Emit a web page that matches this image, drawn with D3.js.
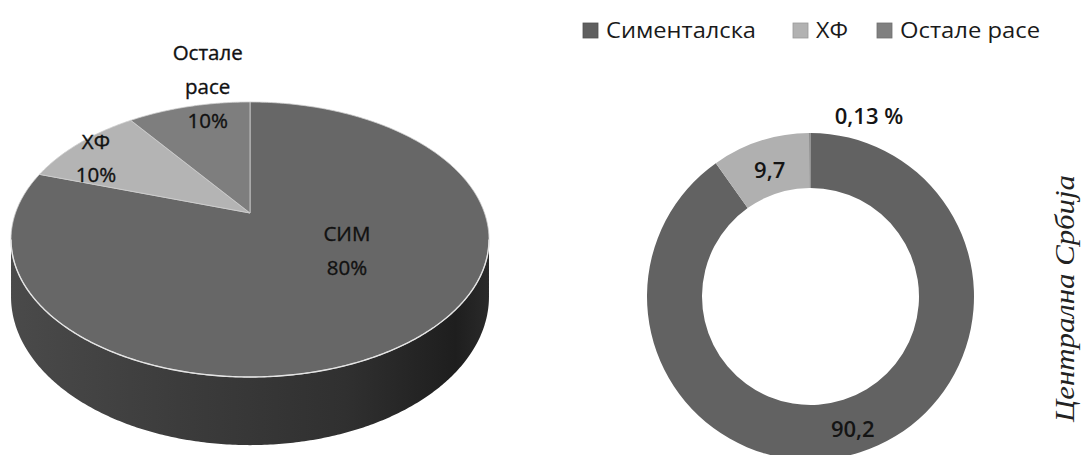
<!DOCTYPE html>
<html><head><meta charset="utf-8">
<script src="https://cdn.jsdelivr.net/npm/d3@7"></script>
<style>html,body{margin:0;padding:0;background:#fff;overflow:hidden}</style>
</head><body>
<svg id="chart" width="1086" height="455"></svg>
<script>
// ---- data ----
const pieCategories = ["СИМ", "ХФ", "Остале расе"];
const pieValues = [80, 10, 10];
const pieLabelLines = [["СИМ", "80%"], ["ХФ", "10%"], ["Остале", "расе", "10%"]];
const donutCategories = ["Сименталска", "ХФ", "Остале расе"];
const donutValues = [90.2, 9.7, 0.13];
const donutLabels = ["90,2", "9,7", "0,13 %"];
const sideTitle = "Централна Србија";

// ---- styles ----
const pieColors = ["#676767", "#b4b4b4", "#7e7e7e"];
const donutColors = ["#626262", "#b0b0b0", "#787878"];
const legendColors = ["#5f5f5f", "#b2b2b2", "#808080"];
const FONT = "'Open Sans', 'Noto Sans', sans-serif";

const svg = d3.select("#chart");
svg.append("rect").attr("width", 1086).attr("height", 455).attr("fill", "#fff");

// ---- 3D pie (left) ----
const P = {cx: 250, cy: 213, A: 234.5, B: 132.4, k: 0.1927, D: 55};
function proj(theta, r, down) {
  const u = r * Math.sin(theta), v = r * Math.cos(theta);
  const den = 1 + P.k * v;
  return [P.cx + P.A * u / den, P.cy - P.B * v / den + (down ? P.D / den : 0)];
}
function arcPts(a0, a1, r, down) {
  const n = Math.max(8, Math.ceil(Math.abs(a1 - a0) / 0.01));
  const pts = [];
  for (let i = 0; i <= n; i++) pts.push(proj(a0 + (a1 - a0) * i / n, r, down));
  return pts;
}
const line = d3.line();
const pieArcs = d3.pie().sort(null).value(d => d)(pieValues);

// side
const thR = Math.acos(-P.k), thL = 2 * Math.PI - thR;
const grad = svg.append("defs").append("linearGradient").attr("id", "sideGrad")
  .attr("x1", "0").attr("x2", "1").attr("y1", "0").attr("y2", "0");
[[0, "#4a4a4a"], [0.35, "#3c3c3c"], [0.7, "#303030"], [0.93, "#1e1e1e"], [1, "#2a2a2a"]]
  .forEach(([o, c]) => grad.append("stop").attr("offset", o).attr("stop-color", c));
const sidePts = arcPts(thR, thL, 1, false).concat(arcPts(thL, thR, 1, true));
svg.append("path").attr("d", line(sidePts) + "Z").attr("fill", "url(#sideGrad)");

// top slices
const gPie = svg.append("g");
pieArcs.forEach((a, i) => {
  const pts = [proj(0, 0, false)].concat(arcPts(a.startAngle, a.endAngle, 1, false));
  gPie.append("path").attr("d", line(pts) + "Z")
    .attr("fill", pieColors[i]).attr("stroke", "#cfcfcf").attr("stroke-width", 0.8)
    .attr("stroke-linejoin", "round");
});
// highlight along front rim
svg.append("path").attr("d", line(arcPts(thR, thL, 1, false)))
  .attr("fill", "none").attr("stroke", "#e4e4e4").attr("stroke-width", 1.4);

// pie labels: [radius factor, dx, dy, line height]
const pieLabelPos = [[0.55, 14, -27, 34], [0.85, -7, 5, 33], [0.85, 11, -34, 34]];
pieArcs.forEach((a, i) => {
  const mid = (a.startAngle + a.endAngle) / 2;
  const [r, dx, dy, lh] = pieLabelPos[i];
  const [x, y] = proj(mid, r, false);
  const lines = pieLabelLines[i];
  const t = svg.append("text").attr("font-family", FONT).attr("font-size", 20.5)
    .attr("fill", "#111").attr("stroke", "#111").attr("stroke-width", 0.35)
    .attr("text-anchor", "middle");
  lines.forEach((s, j) => {
    t.append("tspan").attr("x", x + dx)
      .attr("y", y + dy + (j - (lines.length - 1) / 2) * lh)
      .attr("dominant-baseline", "central").text(s);
  });
});

// ---- donut (right) ----
const D = {cx: 810.5, cy: 296.5, ri: 108.5, ro: 163.5};
const donutArcs = d3.pie().sort(null).value(d => d)(donutValues);
const arc = d3.arc().innerRadius(D.ri).outerRadius(D.ro);
const gD = svg.append("g").attr("transform", `translate(${D.cx},${D.cy})`);
gD.selectAll("path").data(donutArcs).join("path")
  .attr("d", arc).attr("fill", (d, i) => donutColors[i]);
const midArc = d3.arc().innerRadius((D.ri + D.ro) / 2).outerRadius((D.ri + D.ro) / 2);
const outArc = d3.arc().innerRadius(D.ro + 20).outerRadius(D.ro + 20);
donutArcs.forEach((a, i) => {
  const outside = i === 2;
  const [x, y] = outside ? outArc.centroid(a) : midArc.centroid(a);
  gD.append("text").attr("x", x + (outside ? 25 : 1)).attr("y", y + 2)
    .attr("dominant-baseline", "central")
    .attr("text-anchor", outside ? "start" : "middle")
    .attr("font-family", FONT).attr("font-size", 22).attr("font-weight", 600)
    .attr("fill", "#141414").text(donutLabels[i]);
});

// ---- legend ----
const legendX = [583, 793, 877];
const legendTextW = [150, 32, 140];
const gL = svg.append("g");
donutCategories.forEach((c, i) => {
  gL.append("rect").attr("x", legendX[i]).attr("y", 23).attr("width", 15).attr("height", 15)
    .attr("fill", legendColors[i]).attr("stroke", d3.color(legendColors[i]).darker(0.4)).attr("stroke-width", 0.8);
  gL.append("text").attr("x", legendX[i] + 23).attr("y", 37.5)
    .attr("font-family", FONT).attr("font-size", 22).attr("fill", "#1a1a1a")
    .attr("textLength", legendTextW[i]).attr("lengthAdjust", "spacingAndGlyphs").text(c);
});

// ---- vertical title ----
svg.append("text").attr("transform", "translate(1074,422) rotate(-90)")
  .attr("font-family", "'Liberation Serif', 'DejaVu Serif', serif").attr("font-style", "italic")
  .attr("font-size", 27).attr("fill", "#222")
  .attr("textLength", 247).attr("lengthAdjust", "spacingAndGlyphs").text(sideTitle);
</script>
</body></html>
